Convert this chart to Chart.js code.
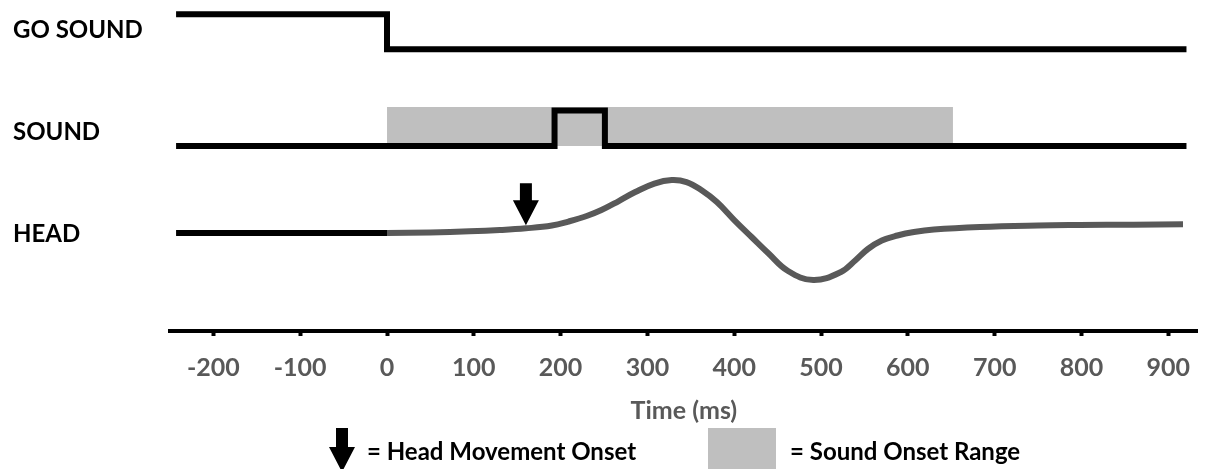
<!DOCTYPE html>
<html>
<head>
<meta charset="utf-8">
<script src="https://cdn.jsdelivr.net/npm/chart.js@4.4.1/dist/chart.umd.min.js"></script>
<style>
  html, body { margin: 0; padding: 0; background: #fff; }
  canvas { display: block; }
</style>
</head>
<body>
<canvas id="trial" width="1207" height="469"></canvas>
<script>
// time axis ticks (ms)
const tickValues = [-200, -100, 0, 100, 200, 300, 400, 500, 600, 700, 800, 900];

// go sound: on until 0 ms, then off
const goTime = [-243, 0, 921];
const goLevel = [1, 0, 0];

// target sound: short pulse
const soundTime = [-243, 193, 251, 921];
const soundLevel = [0, 1, 0, 0];

// window in which the sound can start (ms)
const soundRange = [0, 652];

// head position (a.u.): still before go, then the movement
const headPreTime = [-243, 0];
const headPrePos = [0, 0];
const headTime = [0, 50, 95, 130, 160, 190, 209, 230, 247, 267, 286, 308, 328, 345, 362, 380,
  400, 420, 439, 462, 491, 523, 540, 554, 570, 588, 607, 630, 683, 750, 798, 860, 917];
const headPos = [0, 0.6, 1.7, 3, 4.7, 7.5, 11.5, 17, 23, 32, 41, 49.5, 53, 51, 43, 31,
  13, -4, -20, -38, -47, -39, -27, -16, -7.5, -2.5, 1, 3.5, 6, 7.5, 8, 8.4, 8.7];
const headOnset = 160;

// vertical placement of each trace on the hidden y scale (0..100)
const lanes = {
  go:    { base: 85.1, gain: 10.6,  labelAt: 91.2, label: 'GO SOUND' },
  sound: { base: 55.9, gain: 10.7,  labelAt: 60.4, label: 'SOUND' },
  head:  { base: 29.6, gain: 0.302, labelAt: 29.6, label: 'HEAD' }
};
const RANGE_HEIGHT = 11.8;
const LINE_W = 6;
const FONT = 'bold 24px Lato';
const AXIS_FONT = { family: 'Lato', weight: 'bold', size: 25 };

const toPoints = (ts, vs, lane) => ts.map((t, i) => ({ x: t, y: lane.base + vs[i] * lane.gain }));

function headAt(t) {
  for (let i = 1; i < headTime.length; i++) {
    if (t <= headTime[i]) {
      const f = (t - headTime[i - 1]) / (headTime[i] - headTime[i - 1]);
      return headPos[i - 1] + f * (headPos[i] - headPos[i - 1]);
    }
  }
  return headPos[headPos.length - 1];
}

function drawArrow(ctx, cx, top, shaft, total) {
  ctx.beginPath();
  ctx.moveTo(cx - 6, top);
  ctx.lineTo(cx + 6, top);
  ctx.lineTo(cx + 6, top + shaft);
  ctx.lineTo(cx + 13, top + shaft);
  ctx.lineTo(cx, top + total);
  ctx.lineTo(cx - 13, top + shaft);
  ctx.lineTo(cx - 6, top + shaft);
  ctx.closePath();
  ctx.fillStyle = '#000';
  ctx.fill();
}

const annotations = {
  id: 'annotations',
  afterDraw(chart) {
    const { ctx, scales: { x, y } } = chart;
    ctx.save();

    // trace names on the left
    ctx.font = FONT;
    ctx.fillStyle = '#000';
    ctx.textBaseline = 'alphabetic';
    Object.values(lanes).forEach((lane) => {
      ctx.fillText(lane.label, 13, y.getPixelForValue(lane.labelAt) + 9);
    });

    // head movement onset marker, tip resting on the trace
    const ax = x.getPixelForValue(headOnset);
    const tip = y.getPixelForValue(lanes.head.base + headAt(headOnset) * lanes.head.gain) - LINE_W / 2;
    drawArrow(ctx, ax, tip - 42, 17, 42);

    // key along the bottom
    drawArrow(ctx, 342, 428, 19, 44);
    ctx.fillText('= Head Movement Onset', 367, 460);
    ctx.fillStyle = '#bfbfbf';
    ctx.fillRect(708, 428, 68, 45);
    ctx.fillStyle = '#000';
    ctx.fillText('= Sound Onset Range', 790, 460);

    ctx.restore();
  }
};

const stepLine = {
  borderColor: '#000',
  borderWidth: LINE_W,
  borderJoinStyle: 'miter',
  borderCapStyle: 'butt',
  pointRadius: 0,
  stepped: true,
  fill: false
};

new Chart(document.getElementById('trial'), {
  type: 'line',
  data: {
    datasets: [
      { ...stepLine, label: 'GO SOUND', data: toPoints(goTime, goLevel, lanes.go) },
      { ...stepLine, label: 'SOUND', data: toPoints(soundTime, soundLevel, lanes.sound) },
      { ...stepLine, stepped: false, label: 'HEAD (pre)', data: toPoints(headPreTime, headPrePos, lanes.head) },
      {
        label: 'HEAD',
        data: toPoints(headTime, headPos, lanes.head),
        borderColor: '#595959',
        borderWidth: LINE_W,
        borderCapStyle: 'butt',
        borderJoinStyle: 'round',
        pointRadius: 0,
        tension: 0.4,
        fill: false
      },
      {
        label: 'Sound Onset Range',
        data: soundRange.map((t) => ({ x: t, y: lanes.sound.base + RANGE_HEIGHT })),
        borderWidth: 0,
        pointRadius: 0,
        backgroundColor: '#bfbfbf',
        fill: { value: lanes.sound.base },
        order: 10
      }
    ]
  },
  options: {
    responsive: false,
    animation: false,
    layout: { padding: { left: 170, right: 0, top: 0, bottom: 0 } },
    plugins: { legend: { display: false }, tooltip: { enabled: false } },
    scales: {
      x: {
        type: 'linear',
        min: -250,
        max: 934,
        afterBuildTicks: (s) => { s.ticks = tickValues.map((v) => ({ value: v })); },
        afterFit: (s) => { s.height = 138; },
        border: { display: true, color: '#000', width: 4 },
        grid: { drawOnChartArea: false, drawTicks: true, tickLength: 5, tickWidth: 4, tickColor: '#000' },
        ticks: {
          color: '#595959',
          font: AXIS_FONT,
          padding: 17,
          maxRotation: 0,
          autoSkip: false
        },
        title: {
          display: true,
          text: 'Time (ms)',
          color: '#595959',
          font: AXIS_FONT,
          padding: { top: 0, bottom: 43 }
        }
      },
      y: { display: false, min: 0, max: 100 }
    }
  },
  plugins: [annotations]
});
</script>
</body>
</html>
